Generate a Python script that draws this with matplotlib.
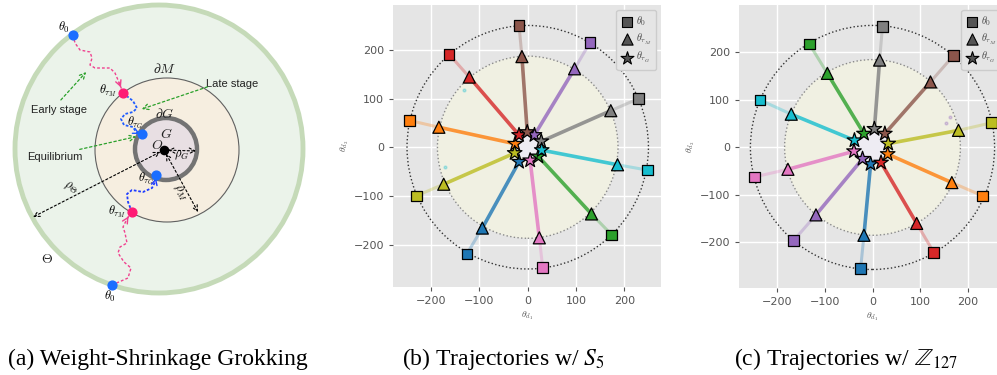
import matplotlib
matplotlib.use("Agg")
import matplotlib.pyplot as plt
from matplotlib.patches import Circle

# ---------------- data ----------------
colors = ["C0", "C1", "C2", "C3", "C4", "C5", "C6", "C7", "C8", "C9"]

# panel (b): S5
b_init_x = [-126, -245, 174, -163, 129, -18, 31, 230, -231, 248]
b_init_y = [-219, 55, -180, 191, 215, 250, -247, 100, -100, -47]
b_mid_x = [-94, -184, 132, -121, 97, -12, 24, 172, -174, 186]
b_mid_y = [-166, 41, -137, 144, 161, 186, -186, 75, -76, -36]
b_end_x = [-18, -26, 22, -18, 14, -1, 5, 28, -27, 29]
b_end_y = [-30, 7, -19, 25, 25, 31, -27, 12, -12, -6]
b_radii = [250, 187, 24]
b_stray = [(-133, 118, "C9"), (-172, -41, "C9")]

# panel (c): Z127
c_init_x = [-25, 232, -133, 129, -166, 170, -248, 21, 251, -237]
c_init_y = [-255, -102, 218, -221, -196, 193, -62, 255, 52, 100]
c_mid_x = [-18, 167, -95, 93, -119, 122, -178, 15, 181, -171]
c_mid_y = [-185, -74, 156, -160, -142, 138, -46, 184, 36, 70]
c_end_x = [-4, 32, -18, 18, -21, 26, -39, 4, 33, -38]
c_end_y = [-35, -14, 29, -32, -24, 29, -8, 39, 8, 15]
c_radii = [257, 185, 36]
c_stray = [(164, 65, "C4"), (155, 52, "C4")]

ticks = [-200, -100, 0, 100, 200]

# panel (a): schematic, in pixel units of the left panel
big_c, big_r = (159, 149), 144
mid_c, mid_r = (167, 150), 72
small_c, small_r = (166, 149), 31
origin = (164, 150)
init_pts = [(73, 35), (112, 285)]
tm_pts = [(123, 93), (132, 212)]
tg_pts = [(142, 134), (156, 175)]
pink_top = [(73, 35), (75, 43), (80, 50), (90, 52), (92, 58), (90, 65), (95, 68),
            (110, 68), (115, 73), (118, 80), (122, 90)]
pink_bot = [(112, 285), (128, 278), (131, 268), (124, 262), (118, 253), (120, 247),
            (127, 243), (125, 233), (123, 227), (127, 219), (130, 214)]
blue_top = [(123, 93), (133, 101), (137, 108), (133, 112), (125, 114), (121, 119),
            (124, 125), (133, 127), (136, 132), (140, 134)]
blue_bot = [(132, 212), (128, 202), (127, 194), (132, 190), (143, 192), (152, 188),
            (155, 182), (156, 178)]

plt.rcParams["mathtext.fontset"] = "cm"

fig = plt.figure(figsize=(9.97, 3.75), dpi=100)

# ================= (a) schematic =================
axa = fig.add_axes([0, 1 - 310 / 375, 330 / 997, 310 / 375])
axa.set_xlim(0, 330)
axa.set_ylim(310, 0)
axa.axis("off")

axa.add_patch(Circle(big_c, big_r, facecolor="#ebf3ea", edgecolor="#c5dab8", lw=3.5, zorder=1))
axa.add_patch(Circle(mid_c, mid_r, facecolor="#f6eee0", edgecolor="#606060", lw=0.8, zorder=2))
axa.add_patch(Circle(small_c, small_r, facecolor="#e8dfe3", edgecolor="#737373", lw=3.2, zorder=3))

axa.plot(*zip(*pink_top), color="#f0418f", ls=(0, (2, 1.5)), lw=1.0, zorder=4)
axa.plot(*zip(*pink_bot), color="#f0418f", ls=(0, (2, 1.5)), lw=1.0, zorder=4)
axa.plot(*zip(*blue_top), color="#1f5cff", ls=(0, (1.5, 1)), lw=1.3, zorder=4)
axa.plot(*zip(*blue_bot), color="#1f3cff", ls=(0, (1.5, 1)), lw=1.3, zorder=4)
for path, col in [(pink_top, "#f0418f"), (pink_bot, "#f0418f"),
                  (blue_top, "#1f5cff"), (blue_bot, "#1f3cff")]:
    axa.annotate("", xy=path[-1], xytext=path[-2],
                 arrowprops=dict(arrowstyle="->", color=col, lw=1.0), zorder=5)

axa.scatter(*zip(*init_pts), s=40, color="#1a6dff", zorder=6)
axa.scatter(*zip(*tm_pts), s=40, color="#ff1a75", zorder=6)
axa.scatter(*zip(*tg_pts), s=40, color="#1a6dff", zorder=6)
axa.scatter([origin[0]], [origin[1]], s=35, color="black", zorder=6)

green = "#2aa02a"
for txt_xy, tip in [((59, 102), (88, 70)), ((210, 86), (139, 110)), ((77, 150), (139, 136))]:
    axa.annotate("", xy=tip, xytext=txt_xy,
                 arrowprops=dict(arrowstyle="->", color=green, lw=0.9, ls=(0, (2, 2))), zorder=5)
for tip in [(33, 217), (196, 151), (198, 212)]:
    axa.annotate("", xy=tip, xytext=origin,
                 arrowprops=dict(arrowstyle="<->", color="black", lw=0.8, ls=(0, (2, 2)),
                                 shrinkA=3, shrinkB=0), zorder=5)

sans = dict(family="Liberation Sans", fontsize=8, color="#222222")
axa.text(59, 110, "Early stage", ha="center", va="center", **sans)
axa.text(232, 84, "Late stage", ha="center", va="center", **sans)
axa.text(55, 157, "Equilibrium", ha="center", va="center", **sans)

m = dict(fontsize=10, color="#222222", ha="center", va="center")
axa.text(165, 69, r"$\partial M$", **m)
axa.text(165, 114, r"$\partial G$", **m)
axa.text(166, 134, r"$G$", **m)
axa.text(157, 145, r"$O$", **m)
axa.text(47, 259, r"$\Theta$", **m)
axa.text(64, 27, r"$\theta_0$", fontsize=9, ha="center", va="center")
axa.text(110, 296, r"$\theta_0$", fontsize=9, ha="center", va="center")
axa.text(108, 91, r"$\theta_{\tau_M}$", fontsize=9, ha="center", va="center")
axa.text(117, 212, r"$\theta_{\tau_M}$", fontsize=9, ha="center", va="center")
axa.text(135, 123, r"$\theta_{\tau_G}$", fontsize=9, ha="center", va="center")
axa.text(146, 179, r"$\theta_{\tau_G}$", fontsize=9, ha="center", va="center")
axa.text(71, 188, r"$\rho_\Theta$", fontsize=9, rotation=-28, ha="center", va="center")
axa.text(182, 155, r"$\rho_G$", fontsize=9, ha="center", va="center")
axa.text(180, 193, r"$\rho_M$", fontsize=9, rotation=-62, ha="center", va="center")


# ================= (b), (c) trajectories =================
def traj_panel(ax, ix, iy, mx, my, ex, ey, radii, stray, xlim, ylim):
    ax.set_facecolor("#e5e5e5")
    ax.grid(True, color="white", lw=1.0)
    ax.set_axisbelow(True)
    for sp in ax.spines.values():
        sp.set_visible(False)
    r_out, r_in, r_core = radii
    ax.add_patch(Circle((0, 0), r_in, facecolor="#f0f0e2", edgecolor="none", zorder=1))
    ax.add_patch(Circle((0, 0), r_in, fill=False, edgecolor="#8a8a8a", ls=":", lw=1.0, zorder=2))
    ax.add_patch(Circle((0, 0), r_out, fill=False, edgecolor="#333333", ls=":", lw=1.0, zorder=2))
    ax.add_patch(Circle((0, 0), r_core, facecolor="#eeecf3", edgecolor="none", zorder=2))
    for sx, sy, sc in stray:
        ax.scatter([sx], [sy], s=4, color=sc, alpha=0.3, zorder=3)
    for i, col in enumerate(colors):
        ax.plot([ix[i], mx[i]], [iy[i], my[i]], color=col, lw=2.2, alpha=0.3, zorder=3)
        ax.plot([mx[i], ex[i]], [my[i], ey[i]], color=col, lw=2.6, alpha=0.8, zorder=3)
    ax.scatter(ix, iy, marker="s", s=60, c=colors, edgecolors="black", linewidths=0.9, zorder=5)
    ax.scatter(mx, my, marker="^", s=75, c=colors, edgecolors="black", linewidths=0.9, zorder=5)
    ax.scatter(ex, ey, marker="*", s=120, c=colors, edgecolors="black", linewidths=0.9, zorder=6)
    ax.set_xlim(*xlim)
    ax.set_ylim(*ylim)
    ax.set_xticks(ticks)
    ax.set_yticks(ticks)
    ax.tick_params(colors="#555555", labelsize=8, length=3)
    ax.set_xlabel(r"$\theta_{d_1}$", fontsize=7, color="#555555", labelpad=2)
    ax.set_ylabel(r"$\theta_{d_2}$", fontsize=7, color="#555555", labelpad=2)
    h1 = ax.scatter([], [], marker="s", s=50, color="#555555", edgecolors="black", linewidths=0.8)
    h2 = ax.scatter([], [], marker="^", s=65, color="#555555", edgecolors="black", linewidths=0.8)
    h3 = ax.scatter([], [], marker="*", s=95, color="#555555", edgecolors="black", linewidths=0.8)
    leg = ax.legend([h1, h2, h3], [r"$\theta_0$", r"$\theta_{\tau_M}$", r"$\theta_{\tau_G}$"],
                    loc="upper right", fontsize=7.5, handletextpad=0.2, borderpad=0.4,
                    labelspacing=0.35, handlelength=1.3, framealpha=1.0,
                    facecolor="#e5e5e5", edgecolor="#cccccc")
    for t in leg.get_texts():
        t.set_color("#444444")


axb = fig.add_axes([393 / 997, 1 - 287 / 375, 268 / 997, 282 / 375])
traj_panel(axb, b_init_x, b_init_y, b_mid_x, b_mid_y, b_end_x, b_end_y,
           b_radii, b_stray, (-279, 276), (-287, 292))

axc = fig.add_axes([739 / 997, 1 - 288 / 375, 267 / 997, 283 / 375])
traj_panel(axc, c_init_x, c_init_y, c_mid_x, c_mid_y, c_end_x, c_end_y,
           c_radii, c_stray, (-281, 281), (-296, 300))

# captions
cap = dict(family="Liberation Serif", fontsize=17, ha="center", va="center",
           math_fontfamily="stix")
fig.text(158 / 997, 1 - 359 / 375, "(a) Weight-Shrinkage Grokking", **cap)
fig.text(503 / 997, 1 - 359 / 375, r"(b) Trajectories w/ $S_5$", **cap)
fig.text(846 / 997, 1 - 359 / 375, r"(c) Trajectories w/ $\mathbb{Z}_{127}$", **cap)

fig.savefig("out.png", dpi=100)
